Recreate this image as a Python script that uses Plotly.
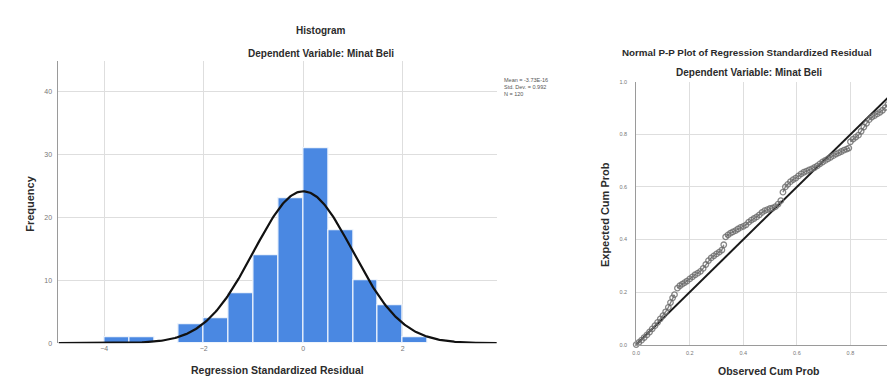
import numpy as np
import plotly.graph_objects as go

W, H = 895, 378

# ---------------- data ----------------
bin_left = [-4.0, -3.5, -2.5, -2.0, -1.5, -1.0, -0.5, 0.0, 0.5, 1.0, 1.5, 2.0]
counts = [1, 1, 3, 4, 8, 14, 23, 31, 18, 10, 6, 1]
bin_width = 0.5
resid_mean = -3.73e-16
resid_sd = 0.992
resid_n = 120
hist_xticks = [-4, -2, 0, 2]
hist_yticks = [0, 10, 20, 30, 40]
stats_lines = ["Mean = -3.73E-16", "Std. Dev. = 0.992", "N = 120"]

# P-P plot points; None marks a visible gap in the trace
pp_observed = [0.000, 0.010, 0.020, 0.030, 0.040, 0.050, 0.060, 0.070, 0.080, 0.090,
               0.100, 0.110, 0.120, 0.128, 0.136, 0.143, None,
               0.154, 0.163, 0.172, 0.181, 0.190, 0.200, 0.210, 0.220, 0.230, 0.240,
               0.250, 0.260, 0.270, 0.280, 0.290, 0.300, 0.310, 0.320, 0.327, None,
               0.334, 0.343, 0.352, 0.361, 0.371, 0.380, 0.390, 0.400, 0.410, 0.420,
               0.430, 0.440, 0.450, 0.460, 0.470, 0.480, 0.490, 0.500, 0.510, 0.520,
               0.530, 0.540, None,
               0.548, 0.557, 0.566, 0.576, 0.586, 0.596, 0.606, 0.616, 0.626, 0.636,
               0.646, 0.656, 0.666, 0.676, 0.686, 0.696, 0.706, 0.716, 0.726, 0.736,
               0.746, 0.756, 0.766, 0.776, 0.786, 0.794, None,
               0.800, 0.810, 0.820, 0.830, 0.840, 0.850, 0.860, 0.870, 0.880, 0.890,
               0.900, 0.910, 0.920, 0.930, 0.940, 0.950, 0.960, 0.970, 0.980, 0.990, 1.000]
pp_expected = [0.000, 0.008, 0.017, 0.027, 0.037, 0.048, 0.060, 0.072, 0.085, 0.098,
               0.110, 0.125, 0.142, 0.160, 0.178, 0.190, None,
               0.215, 0.224, 0.230, 0.236, 0.242, 0.250, 0.258, 0.266, 0.272, 0.279,
               0.290, 0.305, 0.320, 0.330, 0.338, 0.345, 0.352, 0.360, 0.380, None,
               0.410, 0.418, 0.424, 0.429, 0.434, 0.440, 0.446, 0.450, 0.456, 0.466,
               0.474, 0.480, 0.486, 0.494, 0.503, 0.510, 0.514, 0.518, 0.520, 0.525,
               0.535, 0.548, None,
               0.580, 0.600, 0.610, 0.620, 0.628, 0.634, 0.642, 0.650, 0.656, 0.660,
               0.665, 0.669, 0.674, 0.680, 0.688, 0.695, 0.701, 0.707, 0.713, 0.719,
               0.725, 0.730, 0.735, 0.740, 0.744, 0.748, None,
               0.772, 0.782, 0.790, 0.797, 0.812, 0.828, 0.842, 0.856, 0.866, 0.872,
               0.878, 0.884, 0.892, 0.902, 0.914, 0.930, 0.950, 0.966, 0.978, 0.988, 0.996]
pp_diag = [0.0, 1.0]
pp_ticks = [0.0, 0.2, 0.4, 0.6, 0.8]

# ---------------- helpers ----------------
def px(x):
    return x / W

def py(y):
    return 1 - y / H

FONT = "Liberation Sans, Arial, sans-serif"
TITLE_C = "#2b2b2b"
GRID_C = "#dedede"
AXIS_C = "#9a9a9a"
TICK_C = "#777777"

hist_xrange = [-4.92, 3.89]
hist_yrange = [0, 44.8]

fig = go.Figure()

# histogram bars
fig.add_trace(go.Bar(
    x=bin_left, y=counts, width=bin_width, offset=0,
    marker=dict(color="#4a88e2", line=dict(color="#eef4fc", width=1.2)),
    xaxis="x", yaxis="y", showlegend=False, hoverinfo="skip"))

# normal curve from the reported statistics
xc = np.linspace(hist_xrange[0], hist_xrange[1], 400)
yc = resid_n * bin_width * np.exp(-0.5 * ((xc - resid_mean) / resid_sd) ** 2) / (resid_sd * np.sqrt(2 * np.pi))
fig.add_trace(go.Scatter(x=xc, y=yc, mode="lines", line=dict(color="#111111", width=2.2),
                         xaxis="x", yaxis="y", showlegend=False, hoverinfo="skip"))

# P-P plot
fig.add_trace(go.Scatter(x=pp_diag, y=pp_diag, mode="lines", line=dict(color="#1a1a1a", width=2),
                         xaxis="x2", yaxis="y2", showlegend=False, hoverinfo="skip", cliponaxis=False))
fig.add_trace(go.Scatter(x=pp_observed, y=pp_expected, mode="lines+markers", connectgaps=False,
                         line=dict(color="rgba(120,120,120,0.9)", width=1.4),
                         marker=dict(symbol="circle-open", size=5.5, color="rgba(105,105,105,0.8)",
                                     line=dict(width=1.3)),
                         xaxis="x2", yaxis="y2", showlegend=False, hoverinfo="skip", cliponaxis=False))

fig.update_layout(
    width=W, height=H, margin=dict(l=0, r=0, t=0, b=0),
    paper_bgcolor="white", plot_bgcolor="white",
    font=dict(family=FONT, color=TITLE_C),
    bargap=0,
    xaxis=dict(domain=[px(46.7), px(487)], range=hist_xrange, tickvals=hist_xticks,
               showgrid=True, gridcolor=GRID_C, gridwidth=1, zeroline=False,
               showline=False, ticks="", tickfont=dict(size=7, color=TICK_C), anchor="y"),
    yaxis=dict(domain=[py(337.5), py(51)], range=hist_yrange, tickvals=hist_yticks,
               showgrid=True, gridcolor=GRID_C, gridwidth=1, zeroline=False,
               showline=True, linecolor=AXIS_C, linewidth=1, ticks="",
               ticklabelstandoff=4,
               tickfont=dict(size=7, color=TICK_C), anchor="x"),
    xaxis2=dict(domain=[px(627), 1.0], range=[0, 268 / 269], tickvals=pp_ticks, tickformat=".1f",
                showgrid=True, gridcolor=GRID_C, gridwidth=1, zeroline=False,
                showline=True, linecolor=AXIS_C, linewidth=1, ticks="",
                ticklabelstandoff=3,
                tickfont=dict(size=5.5, color=TICK_C), anchor="y2"),
    yaxis2=dict(domain=[py(339), py(72)], range=[0, 1.0], tickvals=pp_ticks + [1.0], tickformat=".1f",
                showgrid=True, gridcolor=GRID_C, gridwidth=1, zeroline=False,
                showline=True, linecolor=AXIS_C, linewidth=1, ticks="",
                ticklabelstandoff=7,
                tickfont=dict(size=5.5, color=TICK_C), anchor="x2"),
)

ann = []

def txt(text, x, y, size, bold=True, angle=0, xanchor="center", color=TITLE_C):
    ann.append(dict(text=f"<b>{text}</b>" if bold else text, x=px(x), y=py(y),
                    xref="paper", yref="paper", showarrow=False, xanchor=xanchor, yanchor="middle",
                    textangle=angle, font=dict(family=FONT, size=size, color=color)))

txt("Histogram", 310, 20, 10)
txt("Dependent Variable: Minat Beli", 310, 43, 10)
txt("Frequency", 18, 195, 11, angle=-90)
txt("Regression Standardized Residual", 267, 365, 10.5)
for i, s in enumerate(stats_lines):
    txt(s, 492, 70 + 7 * i, 5.5, bold=False, xanchor="left", color="#555555")

txt("Normal P-P Plot of Regression Standardized Residual", 738, 42, 9.8)
txt("Dependent Variable: Minat Beli", 740, 63, 10)
txt("Expected Cum Prob", 595, 207, 11, angle=-90)
txt("Observed Cum Prob", 760, 366, 10.5)
txt("1.0", 883, 348, 5.5, bold=False, color=TICK_C)

fig.update_layout(annotations=ann)
fig.write_html("out.html")
